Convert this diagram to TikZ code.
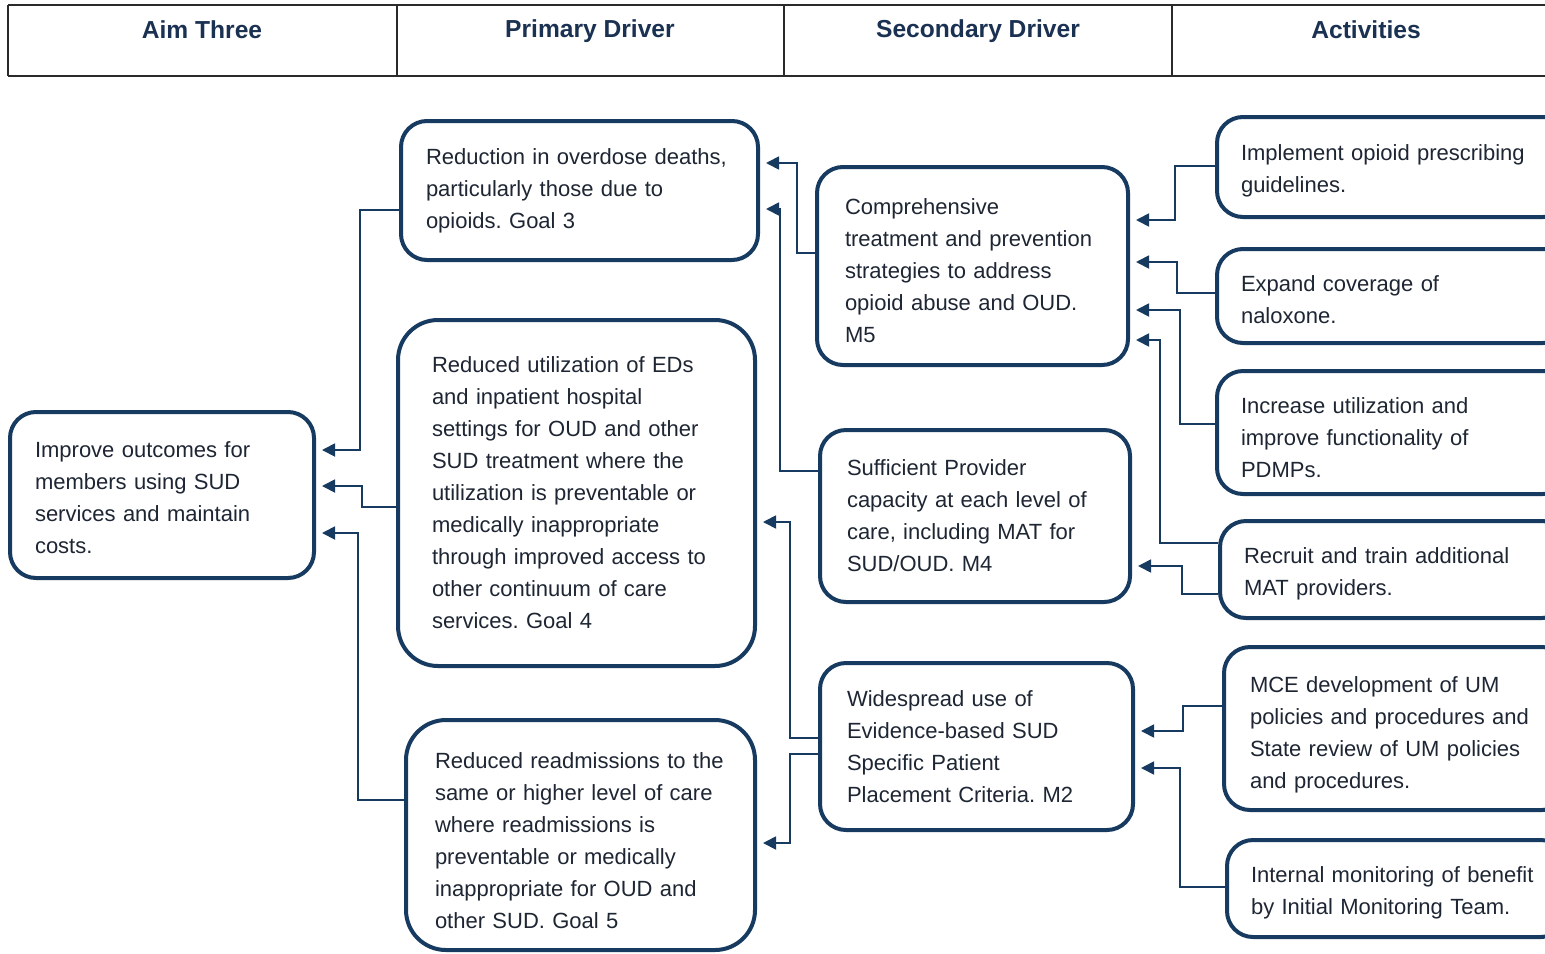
\documentclass[tikz,border=0pt]{standalone}
\usepackage{fontspec}
\setmainfont{Liberation Sans}
\usetikzlibrary{arrows.meta,calc}
\frenchspacing
\definecolor{navy}{HTML}{173A60}
\definecolor{txt}{HTML}{1E2633}
\definecolor{hdrtxt}{HTML}{1A3152}
\definecolor{rule}{HTML}{2A2A2A}
\tikzset{
  box/.style={draw=navy, line width=2pt, rounded corners=13pt, fill=white,
    anchor=west, align=left, inner xsep=12.5pt, inner ysep=0pt, text=txt,
    font=\fontsize{11}{16}\selectfont},
  bigbox/.style={box, rounded corners=20pt},
  lower/.style={execute at begin node={\rule{0pt}{#1}}},
  conn/.style={draw=navy, line width=0.9pt, -{Triangle[length=6.5pt,width=6.5pt]}, shorten >=3pt},
  hdrtext/.style={text=hdrtxt, font=\fontsize{12.3}{14}\selectfont\bfseries},
  hrule/.style={draw=rule, line width=0.7pt}
}
\begin{document}
\begin{tikzpicture}[x=0.5pt,y=-0.5pt]
\useasboundingbox (0,0) rectangle (1545,953);
% header table
\draw[hrule] (8,5) -- (1560,5);
\draw[hrule, line width=1.2pt] (8,76) -- (1560,76);
\draw[hrule] (8,5) -- (8,76);
\draw[hrule] (397,5) -- (397,76);
\draw[hrule] (784,5) -- (784,76);
\draw[hrule] (1172,5) -- (1172,76);
\node[hdrtext] (h1) at (202,30) {Aim Three};
\node[hdrtext] (h2) at (590,31) {Primary Driver};
\node[hdrtext] (h3) at (978,31) {Secondary Driver};
\node[hdrtext] (h4) at (1366,30) {Activities};

% aim
\node[box, lower=11pt, text width=127pt, minimum height=83pt] (Aim) at (8,495)
  {Improve outcomes for\\members using SUD\\services and maintain\\costs.};
% primary drivers
\node[box, text width=153.5pt, minimum height=69.5pt] (P1) at (399,190.5)
  {Reduction in overdose deaths,\\particularly those due to\\opioids. Goal 3};
\node[bigbox, minimum height=173pt, inner xsep=17pt, text width=144.5pt] (P2) at (396,493)
  {Reduced utilization of EDs\\and inpatient hospital\\settings for OUD and other\\SUD treatment where the\\utilization is preventable or\\medically inappropriate\\through improved access to\\other continuum of care\\services. Goal 4};
\node[bigbox, lower=14pt, inner xsep=14.5pt, text width=145.5pt, minimum height=115pt] (P3) at (404,835)
  {Reduced readmissions to the\\same or higher level of care\\where readmissions is\\preventable or medically\\inappropriate for OUD and\\other SUD. Goal 5};
% secondary drivers
\node[box, lower=13pt, inner xsep=14pt, text width=127.5pt, minimum height=99pt] (S1) at (815,266)
  {Comprehensive\\treatment and prevention\\strategies to address\\opioid abuse and OUD.\\M5};
\node[box, inner xsep=13.5pt, text width=128pt, minimum height=86pt] (S2) at (818,516)
  {Sufficient Provider\\capacity at each level of\\care, including MAT for\\SUD/OUD. M4};
\node[box, inner xsep=13.5pt, text width=129.5pt, minimum height=83.5pt] (S3) at (818,746.5)
  {Widespread use of\\Evidence-based SUD\\Specific Patient\\Placement Criteria. M2};
% activities
\node[box, lower=12pt, inner xsep=12pt, text width=152pt, minimum height=50pt] (A1) at (1215,167)
  {Implement opioid prescribing\\guidelines.};
\node[box, lower=12pt, inner xsep=12pt, text width=152pt, minimum height=47pt] (A2) at (1215,296)
  {Expand coverage of\\naloxone.};
\node[box, lower=13pt, inner xsep=12pt, text width=152pt, minimum height=61.5pt] (A3) at (1215,432.5)
  {Increase utilization and\\improve functionality of\\PDMPs.};
\node[box, lower=12.5pt, inner xsep=12pt, text width=150pt, minimum height=48.5pt] (A4) at (1218,569.5)
  {Recruit and train additional\\MAT providers.};
\node[box, lower=14pt, inner xsep=13pt, text width=146pt, minimum height=81.5pt] (A5) at (1222,728.5)
  {MCE development of UM\\policies and procedures and\\State review of UM policies\\and procedures.};
\node[box, lower=12pt, inner xsep=12pt, text width=146pt, minimum height=48.5pt] (A6) at (1225,888.5)
  {Internal monitoring of benefit\\by Initial Monitoring Team.};

% primary -> aim
\draw[conn] (P1.west |- 0,210) -| (360,450) -- (Aim.east |- 0,450);
\draw[conn] (P2.west |- 0,507) -| (362,486) -- (Aim.east |- 0,486);
\draw[conn] (P3.west |- 0,800) -| (358,533) -- (Aim.east |- 0,533);
% secondary -> primary
\draw[conn] (S1.west |- 0,253) -| (797,163) -- (P1.east |- 0,163);
\draw[conn] (S2.west |- 0,471) -| (780,209) -- (P1.east |- 0,209);
\draw[conn] (S3.west |- 0,738) -| (790,522) -- (P2.east |- 0,522);
\draw[conn] (S3.west |- 0,754) -| (790,843) -- (P3.east |- 0,843);
% activities -> secondary
\draw[conn] (A1.west |- 0,166) -| (1175,220) -- (S1.east |- 0,220);
\draw[conn] (A2.west |- 0,293) -| (1177,262) -- (S1.east |- 0,262);
\draw[conn] (A3.west |- 0,424) -| (1180,310) -- (S1.east |- 0,310);
\draw[conn] (A4.west |- 0,543) -| (1160,340) -- (S1.east |- 0,340);
\draw[conn] (A4.west |- 0,594) -| (1182,566) -- (S2.east |- 0,566);
\draw[conn] (A5.west |- 0,706) -| (1183,731) -- (S3.east |- 0,731);
\draw[conn] (A6.west |- 0,887) -| (1180,768) -- (S3.east |- 0,768);
\end{tikzpicture}
\end{document}
